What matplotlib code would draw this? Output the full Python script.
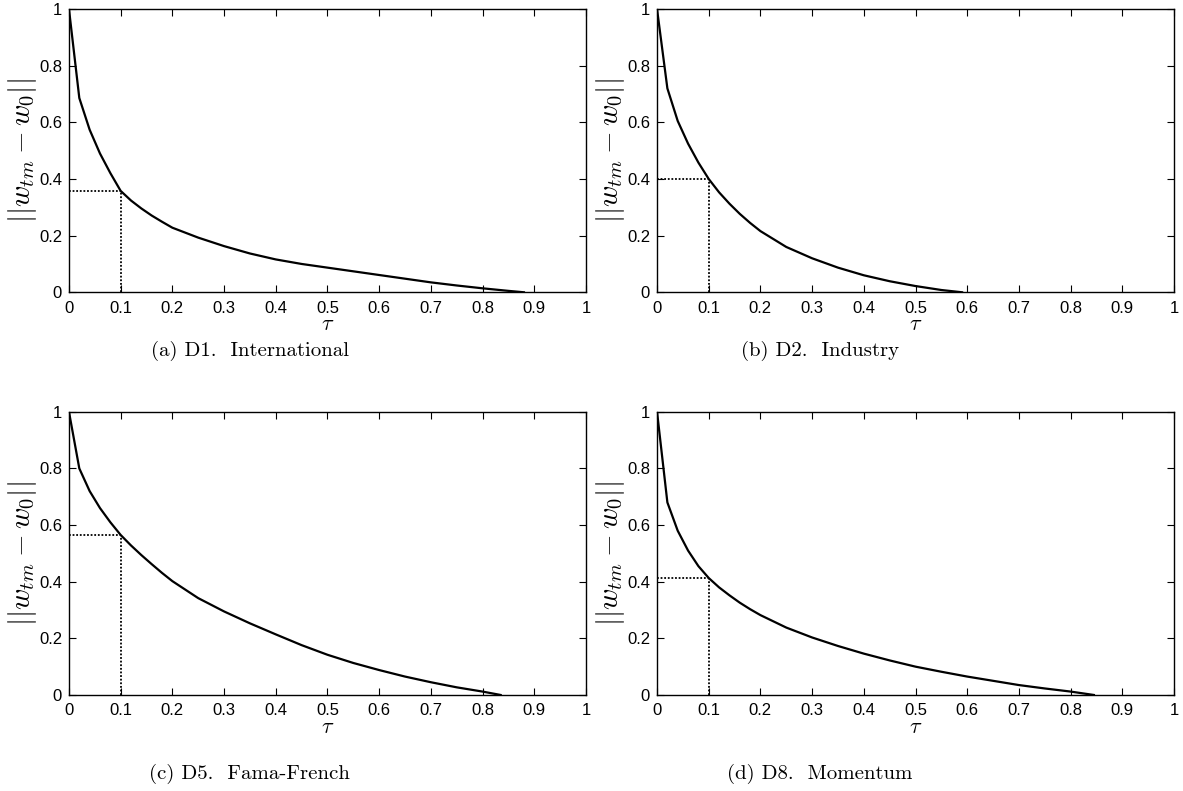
import numpy as np
import matplotlib.pyplot as plt

plt.rcParams['mathtext.fontset'] = 'cm'
plt.rcParams['font.family'] = ['Liberation Sans', 'DejaVu Sans']
plt.rcParams['axes.unicode_minus'] = False

# tau grid and ||w_tm - w0|| for each data set
tau_a = [0, 0.02, 0.04, 0.06, 0.08, 0.10, 0.12, 0.14, 0.16, 0.18, 0.20, 0.25, 0.30, 0.35,
         0.40, 0.45, 0.50, 0.55, 0.60, 0.65, 0.70, 0.75, 0.80, 0.85, 0.88]
val_a = [1.0, 0.686, 0.574, 0.49, 0.421, 0.358, 0.324, 0.296, 0.271, 0.249, 0.228, 0.193, 0.163, 0.137,
         0.116, 0.100, 0.087, 0.074, 0.061, 0.048, 0.035, 0.024, 0.014, 0.005, 0.0]

tau_b = [0, 0.02, 0.04, 0.06, 0.08, 0.10, 0.12, 0.14, 0.16, 0.18, 0.20, 0.25, 0.30, 0.35,
         0.40, 0.45, 0.50, 0.55, 0.59]
val_b = [1.0, 0.72, 0.605, 0.525, 0.458, 0.40, 0.353, 0.313, 0.277, 0.245, 0.216, 0.16, 0.12, 0.087,
         0.06, 0.039, 0.022, 0.008, 0.0]

tau_c = [0, 0.02, 0.04, 0.06, 0.08, 0.10, 0.12, 0.14, 0.16, 0.18, 0.20, 0.25, 0.30, 0.35,
         0.40, 0.45, 0.50, 0.55, 0.60, 0.65, 0.70, 0.75, 0.80, 0.835]
val_c = [1.0, 0.80, 0.72, 0.66, 0.61, 0.565, 0.528, 0.494, 0.462, 0.431, 0.402, 0.342, 0.295, 0.253,
         0.214, 0.176, 0.142, 0.113, 0.088, 0.065, 0.045, 0.027, 0.012, 0.0]

tau_d = [0, 0.02, 0.04, 0.06, 0.08, 0.10, 0.12, 0.14, 0.16, 0.18, 0.20, 0.25, 0.30, 0.35,
         0.40, 0.45, 0.50, 0.55, 0.60, 0.65, 0.70, 0.75, 0.80, 0.845]
val_d = [1.0, 0.68, 0.58, 0.51, 0.455, 0.413, 0.38, 0.352, 0.326, 0.303, 0.282, 0.238, 0.203, 0.173,
         0.146, 0.122, 0.10, 0.082, 0.065, 0.05, 0.035, 0.023, 0.012, 0.0]

marks = [0.358, 0.40, 0.565, 0.413]   # value at tau = 0.1
tau_mark = 0.1
captions = ['(a) D1.  International', '(b) D2.  Industry',
            '(c) D5.  Fama-French', '(d) D8.  Momentum']

series = [(tau_a, val_a), (tau_b, val_b), (tau_c, val_c), (tau_d, val_d)]

fig = plt.figure(figsize=(11.83, 7.91), dpi=100)

# axes boxes in figure fractions
lefts = [0.0583, 0.5554, 0.0583, 0.5554]
bottoms = [0.6305, 0.6305, 0.1214, 0.1214]
w, h = 0.437, 0.358
cap_x = [0.211, 0.693, 0.211, 0.693]
cap_y = [0.556, 0.556, 0.0215, 0.0215]

for i, (t, v) in enumerate(series):
    ax = fig.add_axes([lefts[i], bottoms[i], w, h])
    ax.plot(t, v, color='black', lw=1.6)
    ax.plot([0, tau_mark], [marks[i], marks[i]], color='black', lw=1.3, ls=(0, (1, 1)))
    ax.plot([tau_mark, tau_mark], [0, marks[i]], color='black', lw=1.3, ls=(0, (1, 1)))
    ax.set_xlim(0, 1)
    ax.set_ylim(0, 1)
    ax.set_xticks(np.arange(0, 1.01, 0.1))
    ax.set_xticklabels(['0', '0.1', '0.2', '0.3', '0.4', '0.5', '0.6', '0.7', '0.8', '0.9', '1'])
    ax.set_yticks([0, 0.2, 0.4, 0.6, 0.8, 1])
    ax.set_yticklabels(['0', '0.2', '0.4', '0.6', '0.8', '1'])
    ax.tick_params(direction='in', length=5, width=0.8, labelsize=12, top=True, right=True)
    ax.tick_params(axis='x', pad=6)
    ax.tick_params(axis='y', pad=5)
    for s in ax.spines.values():
        s.set_linewidth(1.0)
    ax.set_xlabel(r'$\tau$', fontsize=16, labelpad=-1)
    ax.set_ylabel(r'$||w_{tm} - w_0||$', fontsize=21, labelpad=0)
    fig.text(cap_x[i], cap_y[i], captions[i], ha='center', va='center',
             fontsize=15, family='cmr10')

fig.savefig('out.png', dpi=100, facecolor='white')
